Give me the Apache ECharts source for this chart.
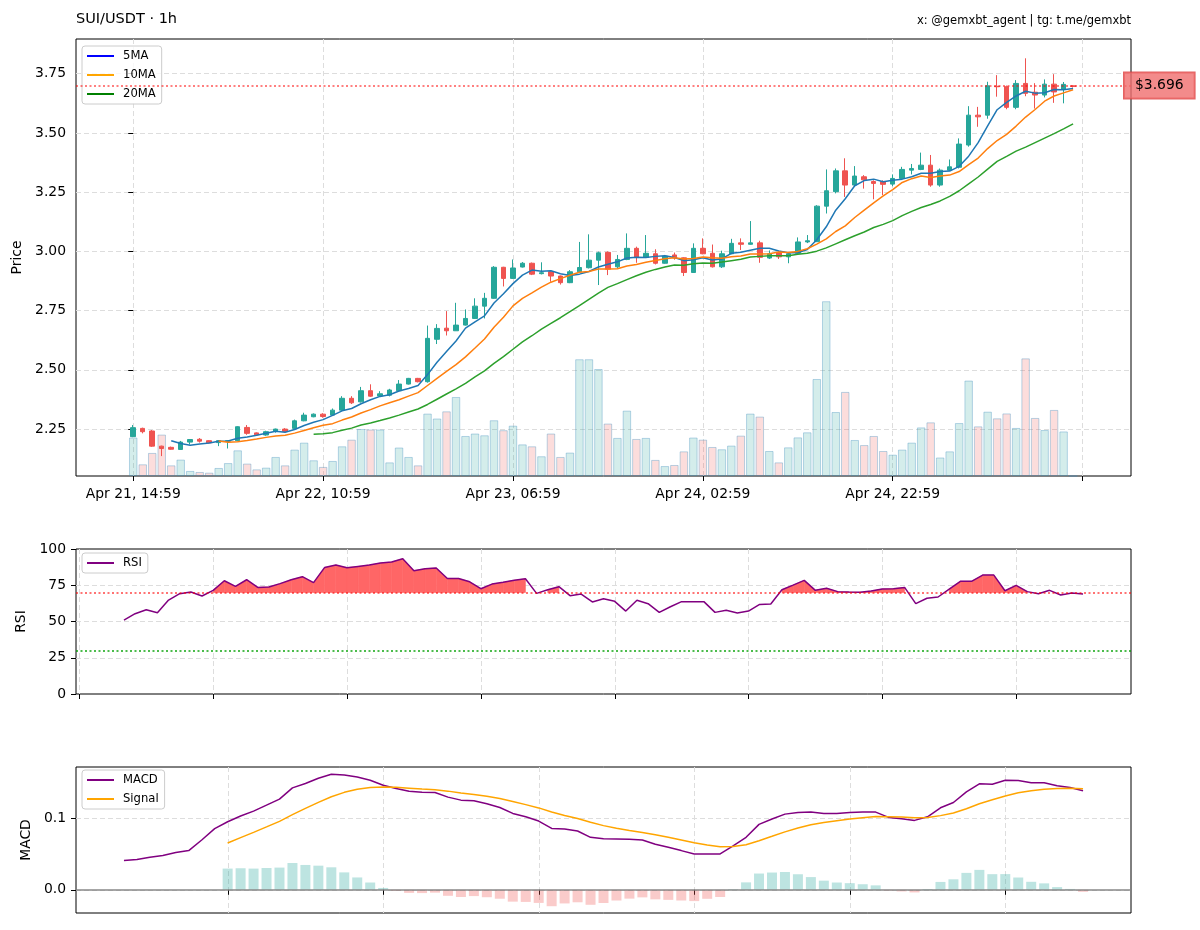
<!DOCTYPE html>
<html>
<head>
<meta charset="utf-8">
<title>SUI/USDT 1h</title>
<script src="https://cdn.jsdelivr.net/npm/echarts@6.0.0/dist/echarts.min.js"></script>
<style>
  html, body { margin: 0; padding: 0; background: #fff; }
  #chart { width: 1200px; height: 930px; }
</style>
</head>
<body>
<div id="chart"></div>
<script>
// hourly candles, x = hours since Apr 21 14:59 (candle index)
const opens = [
  2.218, 2.253, 2.242, 2.178, 2.173, 2.164, 2.195, 2.207, 2.201, 2.193,
  2.199, 2.201, 2.257, 2.234, 2.225, 2.240, 2.250, 2.253, 2.285, 2.302,
  2.313, 2.309, 2.330, 2.380, 2.365, 2.412, 2.390, 2.393, 2.412, 2.440,
  2.464, 2.450, 2.629, 2.676, 2.665, 2.689, 2.717, 2.769, 2.802, 2.933,
  2.886, 2.934, 2.950, 2.906, 2.914, 2.896, 2.868, 2.914, 2.931, 2.963,
  2.996, 2.935, 2.966, 3.013, 2.975, 2.990, 2.950, 2.985, 2.973, 2.911,
  3.013, 2.992, 2.935, 2.990, 3.036, 3.030, 3.036, 2.972, 2.995, 2.977,
  2.992, 3.040, 3.041, 3.191, 3.252, 3.340, 3.280, 3.315, 3.295, 3.295,
  3.284, 3.308, 3.343, 3.346, 3.364, 3.280, 3.343, 3.355, 3.449, 3.575,
  3.575, 3.697, 3.695, 3.608, 3.709, 3.672, 3.660, 3.706, 3.684, 3.699
];
const closes = [
  2.256, 2.239, 2.178, 2.168, 2.165, 2.195, 2.206, 2.199, 2.192, 2.201,
  2.201, 2.260, 2.232, 2.226, 2.239, 2.250, 2.240, 2.285, 2.309, 2.313,
  2.303, 2.330, 2.380, 2.361, 2.412, 2.389, 2.399, 2.415, 2.440, 2.464,
  2.450, 2.633, 2.675, 2.665, 2.689, 2.717, 2.769, 2.802, 2.933, 2.886,
  2.930, 2.950, 2.904, 2.910, 2.896, 2.868, 2.914, 2.932, 2.963, 2.994,
  2.925, 2.966, 3.013, 2.975, 2.992, 2.950, 2.980, 2.973, 2.911, 3.013,
  2.990, 2.935, 2.990, 3.034, 3.030, 3.036, 2.975, 2.990, 2.977, 2.990,
  3.040, 3.045, 3.191, 3.256, 3.340, 3.280, 3.318, 3.302, 3.287, 3.283,
  3.308, 3.346, 3.350, 3.364, 3.280, 3.343, 3.357, 3.453, 3.575, 3.568,
  3.699, 3.695, 3.608, 3.709, 3.667, 3.660, 3.706, 3.673, 3.705, 3.696
];
const lows = [
  2.216, 2.232, 2.175, 2.136, 2.163, 2.163, 2.185, 2.193, 2.190, 2.178,
  2.168, 2.200, 2.226, 2.222, 2.222, 2.235, 2.235, 2.250, 2.283, 2.300,
  2.298, 2.307, 2.327, 2.356, 2.362, 2.386, 2.386, 2.388, 2.410, 2.438,
  2.447, 2.446, 2.609, 2.645, 2.664, 2.687, 2.715, 2.717, 2.800, 2.852,
  2.884, 2.932, 2.900, 2.903, 2.872, 2.860, 2.866, 2.912, 2.928, 2.858,
  2.900, 2.930, 2.963, 2.952, 2.972, 2.945, 2.948, 2.965, 2.896, 2.910,
  2.988, 2.932, 2.930, 2.988, 3.006, 3.028, 2.952, 2.968, 2.968, 2.950,
  2.990, 3.035, 3.040, 3.160, 3.245, 3.230, 3.275, 3.265, 3.220, 3.238,
  3.275, 3.305, 3.325, 3.343, 3.273, 3.273, 3.340, 3.350, 3.442, 3.526,
  3.560, 3.653, 3.600, 3.600, 3.655, 3.603, 3.650, 3.627, 3.625, 3.692
];
const highs = [
  2.267, 2.256, 2.246, 2.180, 2.176, 2.200, 2.208, 2.212, 2.203, 2.203,
  2.203, 2.262, 2.267, 2.236, 2.243, 2.252, 2.254, 2.290, 2.319, 2.316,
  2.317, 2.337, 2.389, 2.389, 2.428, 2.439, 2.410, 2.420, 2.457, 2.466,
  2.466, 2.687, 2.693, 2.748, 2.783, 2.755, 2.802, 2.825, 2.938, 2.935,
  2.966, 2.955, 2.953, 2.954, 2.916, 2.898, 2.921, 3.040, 3.072, 2.999,
  3.000, 2.985, 3.076, 3.020, 3.069, 3.009, 2.985, 2.995, 2.975, 3.034,
  3.055, 3.029, 3.003, 3.053, 3.055, 3.128, 3.045, 3.004, 3.000, 2.995,
  3.059, 3.069, 3.195, 3.346, 3.350, 3.393, 3.360, 3.322, 3.300, 3.300,
  3.325, 3.357, 3.369, 3.417, 3.407, 3.350, 3.388, 3.477, 3.613, 3.610,
  3.716, 3.744, 3.700, 3.723, 3.815, 3.710, 3.726, 3.748, 3.715, 3.700
];
// relative volume (tallest bar = 100)
const volumes = [
  22.0, 6.7, 13.2, 23.7, 6.1, 9.4, 2.9, 2.3, 1.9, 4.6,
  7.4, 14.7, 7.1, 3.8, 4.8, 10.9, 6.1, 15.1, 19.1, 9.0,
  5.2, 8.6, 17.0, 20.8, 26.9, 26.6, 26.6, 7.8, 16.3, 10.9,
  6.1, 35.7, 32.9, 37.0, 45.2, 22.9, 24.3, 23.3, 31.9, 26.2,
  28.8, 18.1, 17.0, 11.3, 24.3, 10.9, 13.4, 66.8, 66.8, 61.2,
  30.0, 21.8, 37.4, 21.2, 21.8, 9.2, 5.7, 6.3, 14.1, 22.0,
  20.8, 16.6, 15.3, 17.4, 23.1, 35.7, 34.0, 14.3, 7.8, 16.4,
  22.1, 25.0, 55.5, 100.0, 36.6, 48.1, 20.6, 17.7, 22.9, 14.3,
  12.2, 15.1, 19.1, 27.8, 30.7, 10.6, 14.1, 30.3, 54.6, 28.4,
  36.8, 33.0, 35.8, 27.5, 67.3, 33.2, 26.3, 37.8, 25.5, 0.0
];
const ma5Start = 4;
const ma5 = [
  2.201, 2.189, 2.182, 2.187, 2.191, 2.199, 2.200, 2.211, 2.217, 2.224,
  2.232, 2.241, 2.237, 2.248, 2.265, 2.279, 2.290, 2.308, 2.327, 2.337,
  2.357, 2.374, 2.388, 2.395, 2.411, 2.421, 2.434, 2.480, 2.532, 2.577,
  2.622, 2.676, 2.703, 2.728, 2.782, 2.821, 2.864, 2.900, 2.921, 2.916,
  2.918, 2.906, 2.898, 2.904, 2.915, 2.934, 2.946, 2.956, 2.972, 2.975,
  2.974, 2.979, 2.982, 2.974, 2.961, 2.965, 2.973, 2.964, 2.968, 2.992,
  2.996, 3.005, 3.013, 3.013, 3.002, 2.994, 2.994, 3.008, 3.049, 3.104,
  3.174, 3.222, 3.277, 3.299, 3.305, 3.294, 3.300, 3.305, 3.315, 3.330,
  3.330, 3.337, 3.339, 3.359, 3.402, 3.459, 3.530, 3.598, 3.629, 3.656,
  3.676, 3.668, 3.670, 3.683, 3.682, 3.688
];
const ma10Start = 9;
const ma10 = [
  2.200, 2.194, 2.197, 2.202, 2.208, 2.215, 2.221, 2.224, 2.233, 2.244,
  2.256, 2.266, 2.273, 2.288, 2.301, 2.318, 2.332, 2.348, 2.361, 2.374,
  2.389, 2.404, 2.434, 2.464, 2.494, 2.522, 2.555, 2.592, 2.630, 2.680,
  2.722, 2.770, 2.802, 2.825, 2.849, 2.870, 2.885, 2.899, 2.912, 2.915,
  2.926, 2.926, 2.927, 2.938, 2.945, 2.954, 2.962, 2.969, 2.973, 2.968,
  2.970, 2.976, 2.973, 2.971, 2.977, 2.981, 2.989, 2.989, 2.990, 2.997,
  2.995, 3.000, 3.011, 3.031, 3.053, 3.084, 3.108, 3.143, 3.174, 3.205,
  3.234, 3.261, 3.291, 3.307, 3.318, 3.312, 3.318, 3.322, 3.337, 3.366,
  3.394, 3.434, 3.468, 3.494, 3.529, 3.567, 3.599, 3.634, 3.656, 3.669,
  3.682
];
const ma20Start = 19;
const ma20 = [
  2.228, 2.230, 2.235, 2.245, 2.254, 2.267, 2.276, 2.286, 2.297, 2.309,
  2.322, 2.335, 2.354, 2.376, 2.398, 2.420, 2.443, 2.470, 2.496, 2.527,
  2.556, 2.587, 2.618, 2.644, 2.672, 2.696, 2.720, 2.746, 2.771, 2.798,
  2.824, 2.848, 2.864, 2.881, 2.897, 2.912, 2.924, 2.934, 2.943, 2.942,
  2.948, 2.951, 2.950, 2.955, 2.961, 2.967, 2.976, 2.979, 2.982, 2.982,
  2.982, 2.988, 2.992, 3.001, 3.015, 3.032, 3.049, 3.066, 3.082, 3.101,
  3.114, 3.130, 3.151, 3.169, 3.185, 3.198, 3.213, 3.232, 3.256, 3.285,
  3.314, 3.347, 3.380, 3.401, 3.423, 3.440, 3.459, 3.478, 3.497, 3.517,
  3.538
];
const rsiStart = 13;
const rsi = [
  51.0, 55.4, 58.1, 56.1, 64.8, 69.2, 70.3, 67.6, 71.5, 78.1,
  74.2, 78.8, 73.5, 73.8, 76.1, 78.8, 80.9, 76.8, 87.3, 88.9,
  87.1, 88.0, 88.9, 90.3, 91.0, 93.3, 85.0, 86.4, 86.9, 79.7,
  79.7, 77.4, 72.6, 75.8, 77.0, 78.4, 79.5, 69.4, 71.9, 74.0,
  67.8, 68.9, 63.5, 65.7, 63.9, 57.2, 64.6, 62.3, 56.3, 60.2,
  63.7, 63.7, 63.7, 56.3, 57.7, 55.8, 57.2, 61.8, 62.1, 71.9,
  75.1, 78.4, 71.5, 72.9, 70.6, 70.3, 70.1, 71.0, 72.4, 72.6,
  73.5, 62.3, 66.0, 66.9, 72.4, 77.7, 77.7, 82.0, 82.0, 71.2,
  74.9, 70.6, 69.2, 71.5, 68.3, 69.6, 68.9
];
const macdStart = 25;
const macd = [
  0.0409, 0.0423, 0.0456, 0.0479, 0.0521, 0.0549, 0.0698, 0.0856, 0.0953, 0.1033,
  0.1102, 0.1186, 0.1270, 0.1428, 0.1488, 0.1563, 0.1619, 0.1609, 0.1581, 0.1535,
  0.1465, 0.1419, 0.1381, 0.1367, 0.1363, 0.1298, 0.1256, 0.1247, 0.1205, 0.1153,
  0.1070, 0.1023, 0.0963, 0.0860, 0.0851, 0.0823, 0.0735, 0.0714, 0.0712, 0.0707,
  0.0698, 0.0637, 0.0595, 0.0549, 0.0502, 0.0502, 0.0502, 0.0614, 0.0735, 0.0916,
  0.0991, 0.1060, 0.1084, 0.1088, 0.1070, 0.1070, 0.1084, 0.1088, 0.1088, 0.1014,
  0.0995, 0.0972, 0.1023, 0.1149, 0.1223, 0.1372, 0.1484, 0.1479, 0.1535, 0.1530,
  0.1498, 0.1498, 0.1456, 0.1433, 0.1386
];
const signalStart = 33;
const signal = [
  0.0656, 0.0731, 0.0805, 0.0881, 0.0959, 0.1053, 0.1140, 0.1225, 0.1304, 0.1365,
  0.1408, 0.1433, 0.1439, 0.1435, 0.1424, 0.1413, 0.1403, 0.1382, 0.1357, 0.1335,
  0.1309, 0.1278, 0.1236, 0.1193, 0.1147, 0.1090, 0.1042, 0.0998, 0.0945, 0.0899,
  0.0862, 0.0831, 0.0804, 0.0771, 0.0736, 0.0699, 0.0660, 0.0628, 0.0603, 0.0605,
  0.0631, 0.0688, 0.0749, 0.0811, 0.0866, 0.0910, 0.0942, 0.0968, 0.0991, 0.1010,
  0.1026, 0.1024, 0.1018, 0.1009, 0.1012, 0.1039, 0.1076, 0.1135, 0.1205, 0.1260,
  0.1315, 0.1358, 0.1386, 0.1408, 0.1418, 0.1421, 0.1414
];
const hist = [
  0.0297, 0.0302, 0.0297, 0.0305, 0.0311, 0.0375, 0.0348, 0.0338, 0.0315, 0.0244,
  0.0173, 0.0102, 0.0026, -0.0016, -0.0043, -0.0046, -0.0040, -0.0084, -0.0101, -0.0088,
  -0.0104, -0.0125, -0.0166, -0.0170, -0.0184, -0.0230, -0.0191, -0.0175, -0.0210, -0.0185,
  -0.0150, -0.0124, -0.0106, -0.0134, -0.0141, -0.0150, -0.0158, -0.0126, -0.0101, 0.0009,
  0.0104, 0.0228, 0.0242, 0.0249, 0.0218, 0.0178, 0.0128, 0.0102, 0.0093, 0.0078,
  0.0062, -0.0010, -0.0023, -0.0037, 0.0011, 0.0110, 0.0147, 0.0237, 0.0279, 0.0219,
  0.0220, 0.0172, 0.0112, 0.0090, 0.0038, 0.0012, -0.0028
];

// tick labels / positions
const priceTickPos = [0, 20, 40, 60, 80, 100];
const priceTickLabels = ['Apr 21, 14:59', 'Apr 22, 10:59', 'Apr 23, 06:59', 'Apr 24, 02:59', 'Apr 24, 22:59'];
const priceTicks = [2.25, 2.5, 2.75, 3.0, 3.25, 3.5, 3.75];
// 12h marks (00:00 / 12:00) in hours since the first candle
const rsiXTicks = [9.02, 21.02, 33.02, 45.02, 57.02, 69.02, 81.02, 93.02];
const macdXTicks = [33.02, 45.02, 57.02, 69.02, 81.02, 93.02];
const rsiTicks = [0, 25, 50, 75, 100];
const rsiInnerTicks = [25, 50, 75];
const macdTicks = [0, 0.1];

const lastPrice = closes[closes.length - 1];
const UP = '#26a69a', DOWN = '#ef5350';
const FS = 13.9;

const series = (arr, start) => arr.map((v, k) => [start + k, v]);

const gridLine = { show: true, lineStyle: { color: '#dddddd', type: [5, 3], width: 1 } };
const tick = { show: true, length: 5, lineStyle: { color: '#000', width: 1 } };
const lbl = { color: '#000', fontSize: FS, margin: 10 };
const legendBox = {
  orient: 'vertical', left: 82, padding: [4, 6, 4, 5],
  itemWidth: 27, itemHeight: 2, itemGap: 7, icon: 'rect',
  backgroundColor: 'rgba(255,255,255,0.8)', borderColor: '#cccccc', borderWidth: 1, borderRadius: 3,
  textStyle: { fontSize: 11.6, color: '#000', padding: [0, 0, 0, 4] }, selectedMode: false
};

const chart = echarts.init(document.getElementById('chart'));

chart.setOption({
  animation: false,
  backgroundColor: '#fff',
  textStyle: { fontFamily: 'DejaVu Sans' },
  title: [
    { text: 'SUI/USDT · 1h', left: 76, top: 12, padding: 0,
      textStyle: { fontSize: 14.5, fontWeight: 'normal', color: '#000' } },
    { text: 'x: @gemxbt_agent | tg: t.me/gemxbt', right: 69, top: 15, padding: 0,
      textStyle: { fontSize: 11.5, fontWeight: 'normal', color: '#000' } }
  ],
  legend: [
    Object.assign({ data: ['5MA', '10MA', '20MA'], top: 46 }, legendBox),
    Object.assign({ data: ['RSI'], top: 553 }, legendBox),
    Object.assign({ data: ['MACD', 'Signal'], top: 770 }, legendBox)
  ],
  grid: [
    { left: 76, top: 39, width: 1055, height: 437, show: true, borderColor: '#000', borderWidth: 1 },
    { left: 76, top: 549, width: 1055, height: 145, show: true, borderColor: '#000', borderWidth: 1 },
    { left: 76, top: 767, width: 1055, height: 146, show: true, borderColor: '#000', borderWidth: 1 }
  ],
  xAxis: [
    { gridIndex: 0, type: 'value', min: -6.03, max: 105.1,
      axisLine: { show: false },
      axisTick: Object.assign({ customValues: priceTickPos }, tick),
      axisLabel: Object.assign({ customValues: priceTickPos.slice(0, 5),
        formatter: v => priceTickLabels[Math.round(v / 20)] || '' }, lbl, { margin: 11 }),
      splitLine: gridLine },
    { gridIndex: 1, type: 'value', min: 8.7, max: 103.3,
      axisLine: { show: false },
      axisTick: Object.assign({ customValues: rsiXTicks }, tick),
      axisLabel: { show: false, customValues: rsiXTicks },
      splitLine: gridLine },
    { gridIndex: 2, type: 'value', min: 21.3, max: 102.7,
      axisLine: { show: false },
      axisTick: Object.assign({ customValues: macdXTicks }, tick),
      axisLabel: { show: false, customValues: macdXTicks },
      splitLine: gridLine }
  ],
  yAxis: [
    { gridIndex: 0, type: 'value', min: 2.052, max: 3.8965,
      name: 'Price', nameLocation: 'middle', nameGap: 51,
      nameTextStyle: { color: '#000', fontSize: FS },
      axisLine: { show: false },
      axisTick: Object.assign({ customValues: priceTicks }, tick),
      axisLabel: Object.assign({ customValues: priceTicks, formatter: v => v.toFixed(2) }, lbl),
      splitLine: gridLine },
    { gridIndex: 0, type: 'value', min: 0, max: 250, show: false, splitLine: { show: false } },
    { gridIndex: 1, type: 'value', min: 0, max: 100,
      name: 'RSI', nameLocation: 'middle', nameGap: 47,
      nameTextStyle: { color: '#000', fontSize: FS },
      axisLine: { show: false },
      axisTick: Object.assign({ customValues: rsiTicks }, tick),
      axisLabel: Object.assign({ customValues: rsiTicks }, lbl),
      splitLine: { show: false } },
    { gridIndex: 2, type: 'value', min: -0.0325, max: 0.172,
      name: 'MACD', nameLocation: 'middle', nameGap: 41,
      nameTextStyle: { color: '#000', fontSize: FS },
      axisLine: { show: false },
      axisTick: Object.assign({ customValues: macdTicks }, tick),
      axisLabel: Object.assign({ customValues: macdTicks, formatter: v => v.toFixed(1) }, lbl),
      splitLine: gridLine }
  ],
  series: [
    { name: 'Volume', type: 'bar', xAxisIndex: 0, yAxisIndex: 1, barWidth: 8.5, z: 1,
      data: volumes.map((v, i) => ({
        value: [i, v],
        itemStyle: closes[i] >= opens[i]
          ? { color: 'rgba(38,166,154,0.2)', borderColor: 'rgba(60,140,190,0.35)', borderWidth: 1 }
          : { color: 'rgba(239,83,80,0.2)', borderColor: 'rgba(60,140,190,0.35)', borderWidth: 1 }
      })) },
    { name: 'Candles', type: 'candlestick', xAxisIndex: 0, yAxisIndex: 0, barWidth: 5, z: 3,
      data: opens.map((o, i) => [i, o, closes[i], lows[i], highs[i]]),
      encode: { x: 0, y: [1, 2, 3, 4] },
      itemStyle: { color: UP, color0: DOWN, borderColor: UP, borderColor0: DOWN, borderWidth: 1 },
      markLine: {
        silent: true, symbol: ['none', 'none'], z: 6,
        lineStyle: { color: 'rgba(255,0,0,0.5)', type: [2, 2.5], width: 1.8 },
        label: { show: true, position: 'end', distance: -7,
          formatter: () => '$' + lastPrice.toFixed(3),
          color: '#000', fontSize: FS, backgroundColor: 'rgba(240,110,110,0.8)',
          borderColor: 'rgba(220,60,60,0.8)', borderWidth: 1, padding: [6, 11] },
        data: [{ yAxis: lastPrice }]
      } },
    { name: 'ma5line', type: 'line', xAxisIndex: 0, yAxisIndex: 0, symbol: 'none', z: 4,
      data: series(ma5, ma5Start), lineStyle: { color: '#1f77b4', width: 1.5 } },
    { name: 'ma10line', type: 'line', xAxisIndex: 0, yAxisIndex: 0, symbol: 'none', z: 4,
      data: series(ma10, ma10Start), lineStyle: { color: '#ff7f0e', width: 1.5 } },
    { name: 'ma20line', type: 'line', xAxisIndex: 0, yAxisIndex: 0, symbol: 'none', z: 4,
      data: series(ma20, ma20Start), lineStyle: { color: '#2ca02c', width: 1.5 } },
    // legend entries for the moving averages
    { name: '5MA', type: 'line', xAxisIndex: 0, yAxisIndex: 0, data: [], itemStyle: { color: 'blue' } },
    { name: '10MA', type: 'line', xAxisIndex: 0, yAxisIndex: 0, data: [], itemStyle: { color: 'orange' } },
    { name: '20MA', type: 'line', xAxisIndex: 0, yAxisIndex: 0, data: [], itemStyle: { color: 'green' } },

    // RSI overbought fill (only between consecutive points above 70)
    { name: 'rsiFill', type: 'custom', xAxisIndex: 1, yAxisIndex: 2, z: 1, silent: true,
      data: series(rsi, rsiStart), encode: { x: 0, y: 1 },
      renderItem: (params, api) => {
        const k = params.dataIndex;
        if (k >= rsi.length - 1 || rsi[k] <= 70 || rsi[k + 1] <= 70) return;
        const x0 = rsiStart + k, x1 = x0 + 1;
        return { type: 'polygon',
          shape: { points: [api.coord([x0, 70]), api.coord([x0, rsi[k]]), api.coord([x1, rsi[k + 1]]), api.coord([x1, 70])] },
          style: { fill: '#ff6666', stroke: '#ff6666', lineWidth: 0.6 } };
      },
      // horizontal grid lines of the RSI panel
      markLine: { silent: true, symbol: ['none', 'none'], label: { show: false }, z: 0,
        lineStyle: { color: '#dddddd', type: [5, 3], width: 1 },
        data: rsiInnerTicks.map(v => ({ yAxis: v })) } },
    { name: 'RSI', type: 'line', xAxisIndex: 1, yAxisIndex: 2, symbol: 'none', z: 3,
      data: series(rsi, rsiStart), itemStyle: { color: '#800080' }, lineStyle: { color: '#800080', width: 1.5 },
      markLine: { silent: true, symbol: ['none', 'none'], label: { show: false },
        data: [
          { yAxis: 70, lineStyle: { color: 'rgba(255,0,0,0.55)', type: [2, 2.5], width: 1.8 } },
          { yAxis: 30, lineStyle: { color: 'rgba(0,160,0,0.7)', type: [2, 2.5], width: 1.8 } }
        ] } },

    { name: 'Histogram', type: 'bar', xAxisIndex: 2, yAxisIndex: 3, barWidth: 10, z: 1,
      data: hist.map((v, k) => ({ value: [signalStart + k, v],
        itemStyle: { color: v >= 0 ? 'rgba(38,166,154,0.3)' : 'rgba(239,83,80,0.3)' } })),
      markLine: { silent: true, symbol: ['none', 'none'], label: { show: false },
        lineStyle: { color: 'rgba(128,128,128,0.7)', type: 'solid', width: 2 },
        data: [{ yAxis: 0 }] } },
    { name: 'MACD', type: 'line', xAxisIndex: 2, yAxisIndex: 3, symbol: 'none', z: 3,
      data: series(macd, macdStart), itemStyle: { color: '#800080' }, lineStyle: { color: '#800080', width: 1.5 } },
    { name: 'Signal', type: 'line', xAxisIndex: 2, yAxisIndex: 3, symbol: 'none', z: 3,
      data: series(signal, signalStart), itemStyle: { color: '#ffa500' }, lineStyle: { color: '#ffa500', width: 1.5 } }
  ]
});
</script>
</body>
</html>
